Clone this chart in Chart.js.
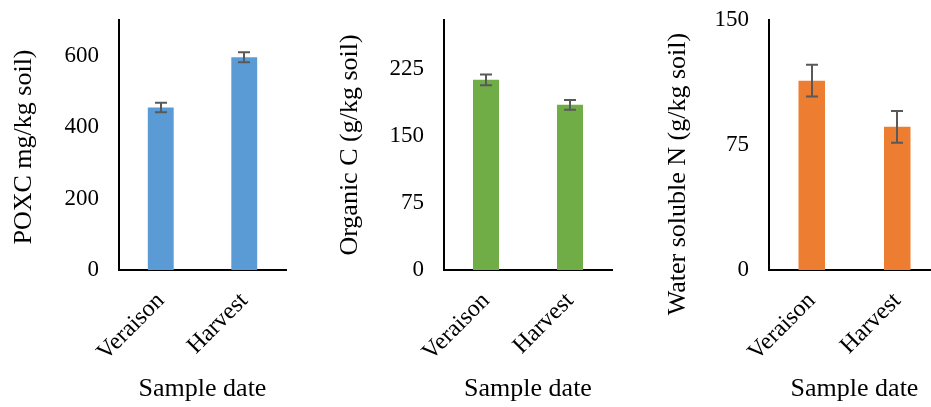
<!DOCTYPE html>
<html>
<head>
<meta charset="utf-8">
<script src="https://cdn.jsdelivr.net/npm/chart.js@4.4.0/dist/chart.umd.min.js"></script>
<style>
  html, body { margin: 0; padding: 0; background: #fff; overflow: hidden; width: 931px; height: 407px; }
  canvas { position: absolute; top: 0; }
</style>
</head>
<body>
<canvas id="poxc" width="300" height="407" style="left:0px"></canvas>
<canvas id="organicC" width="300" height="407" style="left:320px"></canvas>
<canvas id="wsn" width="330" height="407" style="left:620px"></canvas>
<script>
// Sampling dates shared by all three panels
const categories = ['Veraison', 'Harvest'];

// Permanganate-oxidizable carbon
const poxcValues = [455, 596];
const poxcErrors = [13, 14];
const poxcTicks = [0, 200, 400, 600];

// Organic carbon
const organicCValues = [213, 185];
const organicCErrors = [6, 5.5];
const organicCTicks = [0, 75, 150, 225];

// Water soluble nitrogen
const wsnValues = [113.6, 85.9];
const wsnErrors = [9.5, 9.5];
const wsnTicks = [0, 75, 150];

const SERIF = "'Liberation Serif', 'Times New Roman', serif";

// Draws +/- error whiskers on each bar using the chart's y scale
const errorBars = {
  id: 'errorBars',
  afterDatasetsDraw(chart, args, opts) {
    const { ctx } = chart;
    const yScale = chart.scales.y;
    const meta = chart.getDatasetMeta(0);
    const values = chart.data.datasets[0].data;
    ctx.save();
    ctx.strokeStyle = '#595959';
    ctx.lineWidth = 2;
    meta.data.forEach((bar, i) => {
      const x = Math.round(bar.x);
      const top = yScale.getPixelForValue(values[i] + opts.errors[i]);
      const bot = yScale.getPixelForValue(values[i] - opts.errors[i]);
      ctx.beginPath();
      ctx.moveTo(x, top); ctx.lineTo(x, bot);
      ctx.moveTo(x - 6, top); ctx.lineTo(x + 6, top);
      ctx.moveTo(x - 6, bot); ctx.lineTo(x + 6, bot);
      ctx.stroke();
    });
    ctx.restore();
  }
};

// Vertical y-axis caption placed at a chosen centre
const sideTitle = {
  id: 'sideTitle',
  afterDraw(chart, args, opts) {
    const { ctx } = chart;
    ctx.save();
    ctx.translate(opts.x, opts.y);
    ctx.rotate(-Math.PI / 2);
    ctx.font = '26px ' + SERIF;
    ctx.fillStyle = '#000';
    ctx.textAlign = 'center';
    ctx.textBaseline = 'middle';
    ctx.fillText(opts.text, 0, 0);
    ctx.restore();
  }
};

function makePanel(id, cfg) {
  new Chart(document.getElementById(id), {
    type: 'bar',
    data: {
      labels: categories,
      datasets: [{
        data: cfg.values,
        backgroundColor: cfg.color,
        barPercentage: cfg.barPct,
        categoryPercentage: 1.0
      }]
    },
    plugins: [errorBars, sideTitle],
    options: {
      responsive: false,
      animation: false,
      devicePixelRatio: 1,
      layout: { padding: { top: 20, right: cfg.rightPad, left: 0, bottom: 0 } },
      plugins: {
        legend: { display: false },
        tooltip: { enabled: false },
        errorBars: { errors: cfg.errors },
        sideTitle: { text: cfg.title, x: cfg.titleX, y: cfg.titleY }
      },
      scales: {
        x: {
          grid: { display: false, drawTicks: false },
          border: { color: '#000', width: 2 },
          ticks: {
            color: '#000',
            font: { family: SERIF, size: 24 },
            maxRotation: 45,
            minRotation: 45,
            padding: 17
          },
          title: {
            display: true,
            text: 'Sample date',
            color: '#000',
            font: { family: SERIF, size: 26 },
            padding: { top: 0, bottom: 2 }
          },
          afterFit: (s) => { s.height = 137; s.paddingLeft = 0; s.paddingRight = 0; }
        },
        y: {
          min: 0,
          max: cfg.max,
          grid: { display: false, drawTicks: false },
          border: { color: '#000', width: 2 },
          ticks: {
            color: '#000',
            font: { family: SERIF, size: 23 },
            padding: 20
          },
          afterBuildTicks: (s) => { s.ticks = cfg.ticks.map(v => ({ value: v })); },
          afterFit: (s) => { s.width = cfg.yWidth; s.paddingTop = 0; s.paddingBottom = 0; }
        }
      }
    }
  });
}

makePanel('poxc', {
  values: poxcValues, errors: poxcErrors, ticks: poxcTicks, max: 700,
  color: '#5B9BD5', title: 'POXC mg/kg soil)',
  yWidth: 119, rightPad: 14, barPct: 0.31, titleX: 24, titleY: 147
});

makePanel('organicC', {
  values: organicCValues, errors: organicCErrors, ticks: organicCTicks, max: 280,
  color: '#70AD47', title: 'Organic C (g/kg soil)',
  yWidth: 124, rightPad: 8, barPct: 0.31, titleX: 30, titleY: 145
});

makePanel('wsn', {
  values: wsnValues, errors: wsnErrors, ticks: wsnTicks, max: 150,
  color: '#ED7D31', title: 'Water soluble N (g/kg soil)',
  yWidth: 149, rightPad: 10, barPct: 0.31, titleX: 58, titleY: 174
});
</script>
</body>
</html>
